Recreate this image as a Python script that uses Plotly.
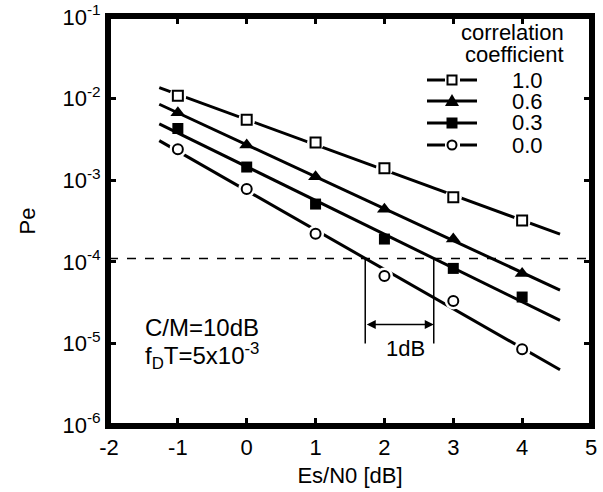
import numpy as np
import plotly.graph_objects as go

# ---- data ----
es_n0 = [-1, 0, 1, 2, 3, 4]
pe_rho_10 = [1.08e-2, 5.5e-3, 2.9e-3, 1.4e-3, 6.2e-4, 3.2e-4]
pe_rho_06 = [6.7e-3, 2.7e-3, 1.1e-3, 4.4e-4, 1.9e-4, 7.2e-5]
pe_rho_03 = [4.3e-3, 1.45e-3, 5.1e-4, 1.9e-4, 8.3e-5, 3.7e-5]
pe_rho_00 = [2.4e-3, 7.8e-4, 2.2e-4, 6.7e-5, 3.3e-5, 8.5e-6]
series_labels = ["1.0", "0.6", "0.3", "0.0"]
line_x = [-1.27, 4.55]          # extent of the fitted lines
target_pe = 1.1e-4              # dashed reference level
x_ticks = [-2, -1, 0, 1, 2, 3, 4, 5]
y_ticks = [1e-6, 1e-5, 1e-4, 1e-3, 1e-2, 1e-1]
y_ticktext = ["10<sup>-6</sup>", "10<sup>-5</sup>", "10<sup>-4</sup>",
              "10<sup>-3</sup>", "10<sup>-2</sup>", "10<sup>-1</sup>"]

FONT = "Liberation Sans, Arial, Helvetica, sans-serif"
FS = 22
W, H = 603, 492
PL, PR, PT, PB = 109, 591, 17, 425   # plot area in window pixels
L, T, R, B = PL, PT, W - PR, H - PB
PW, PH = PR - PL, PB - PT


def px(xp):
    return (xp - PL) / PW


def py(yp):
    return (PB - yp) / PH


series = [
    (pe_rho_10, dict(symbol="square", color="white", size=10, line=dict(color="black", width=2)), True),
    (pe_rho_06, dict(symbol="triangle-up", color="black", size=13, line=dict(color="black", width=0)), False),
    (pe_rho_03, dict(symbol="square", color="black", size=11, line=dict(color="black", width=0)), False),
    (pe_rho_00, dict(symbol="circle", color="white", size=10, line=dict(color="black", width=2)), True),
]

fig = go.Figure()
xl = np.array(line_x)
fits = []
for vals, mk, gap in series:
    p = np.polyfit(es_n0, np.log10(vals), 1)
    fits.append(p)
    fig.add_trace(go.Scatter(x=xl, y=10 ** np.polyval(p, xl), mode="lines",
                             line=dict(color="black", width=3), showlegend=False,
                             hoverinfo="skip"))
    if gap:
        fig.add_trace(go.Scatter(x=es_n0, y=vals, mode="markers",
                                 marker=dict(symbol="circle", color="white", size=17,
                                             line=dict(width=0)),
                                 showlegend=False, hoverinfo="skip"))
    fig.add_trace(go.Scatter(x=es_n0, y=vals, mode="markers", marker=mk, showlegend=False))

# dashed reference line
fig.add_trace(go.Scatter(x=[-2, 5], y=[target_pe, target_pe], mode="lines",
                         line=dict(color="black", width=1.5, dash="dash"),
                         showlegend=False, hoverinfo="skip"))

# crossing points of rho=0.0 and rho=0.3 lines with the reference level
x_a = (np.log10(target_pe) - fits[3][1]) / fits[3][0]
x_b = (np.log10(target_pe) - fits[2][1]) / fits[2][0]
for xc in (x_a, x_b):
    fig.add_trace(go.Scatter(x=[xc, xc], y=[target_pe, 1.0e-5], mode="lines",
                             line=dict(color="black", width=1.5),
                             showlegend=False, hoverinfo="skip"))

annotations = [
    dict(x=x_b, y=np.log10(1.7e-5), ax=x_a, ay=np.log10(1.7e-5), xref="x", yref="y",
         axref="x", ayref="y", showarrow=True, arrowhead=2, arrowside="end+start",
         arrowsize=1.2, arrowwidth=1.5, arrowcolor="black", text=""),
    dict(x=(x_a + x_b) / 2 + 0.09, y=np.log10(8.7e-6), xref="x", yref="y", text="1dB",
         showarrow=False, font=dict(size=FS, family=FONT, color="black")),
    dict(x=-1.5, y=np.log10(1.55e-5), xref="x", yref="y", text="C/M=10dB",
         showarrow=False, xanchor="left", font=dict(size=24, family=FONT, color="black")),
    dict(x=-1.5, y=np.log10(7.0e-6), xref="x", yref="y",
         text="f<sub>D</sub>T=5x10<sup>-3</sup>",
         showarrow=False, xanchor="left", font=dict(size=24, family=FONT, color="black")),
]

shapes = [
    # plot frame
    dict(type="rect", xref="paper", yref="paper", x0=0, x1=1, y0=0, y1=1,
         line=dict(color="black", width=4), layer="above"),
]

# ---- hand-drawn legend (window pixel positions) ----
leg_title = ["correlation", "coefficient"]
for i, t in enumerate(leg_title):
    annotations.append(dict(x=px(566), y=py(33 + 21 * i), xref="paper", yref="paper", text=t,
                            showarrow=False, xanchor="right", yanchor="middle",
                            font=dict(size=FS, family=FONT, color="black")))
row_y = [80, 101, 123, 145]
sym_x = 452
for (vals, mk, gap), lab, ry in zip(series, series_labels, row_y):
    if gap:
        segs = [(427, 445), (460, 477)]
    else:
        segs = [(427, 477)]
    for a, b in segs:
        shapes.append(dict(type="line", xref="paper", yref="paper", x0=px(a), x1=px(b),
                           y0=py(ry), y1=py(ry), line=dict(color="black", width=3)))
    common = dict(xref="paper", yref="paper", xsizemode="pixel", ysizemode="pixel",
                  xanchor=px(sym_x), yanchor=py(ry))
    sym = mk["symbol"]
    if sym == "square" and mk["color"] == "white":
        shapes.append(dict(type="rect", x0=-4.5, x1=4.5, y0=-4.5, y1=4.5,
                           fillcolor="white", line=dict(color="black", width=2), **common))
    elif sym == "square":
        shapes.append(dict(type="rect", x0=-5.5, x1=5.5, y0=-5.5, y1=5.5,
                           fillcolor="black", line=dict(color="black", width=0), **common))
    elif sym == "circle":
        shapes.append(dict(type="circle", x0=-4.5, x1=4.5, y0=-4.5, y1=4.5,
                           fillcolor="white", line=dict(color="black", width=2), **common))
    else:
        shapes.append(dict(type="path", path="M -7 -5 L 7 -5 L 0 7 Z",
                           fillcolor="black", line=dict(color="black", width=0), **common))
    annotations.append(dict(x=px(510), y=py(ry), xref="paper", yref="paper", text=lab,
                            showarrow=False, xanchor="left", yanchor="middle",
                            font=dict(size=FS, family=FONT, color="black")))

axis_common = dict(showline=True, linewidth=4, linecolor="black", mirror="ticks",
                   ticks="inside", ticklen=7, tickwidth=3, tickcolor="black",
                   showgrid=False, zeroline=False, automargin=False,
                   ticklabeloverflow="allow",
                   tickfont=dict(size=FS, family=FONT, color="black"))

fig.update_layout(
    width=W, height=H,
    margin=dict(l=L, r=R, t=T, b=B),
    paper_bgcolor="white", plot_bgcolor="white",
    showlegend=False,
    font=dict(family=FONT, color="black"),
    xaxis=dict(range=[-2, 5], tickvals=x_ticks, ticktext=[str(v) for v in x_ticks],
               title=dict(text="Es/N0 [dB]", font=dict(size=FS, family=FONT), standoff=9),
               **axis_common),
    yaxis=dict(type="log", range=[-6, -1], tickvals=y_ticks, ticktext=y_ticktext,
               title=dict(text="Pe", font=dict(size=FS, family=FONT), standoff=22),
               **axis_common),
    annotations=annotations,
    shapes=shapes,
)

fig.write_html("out.html", config={"displayModeBar": False},
               post_script="document.body.style.margin='0px';")
